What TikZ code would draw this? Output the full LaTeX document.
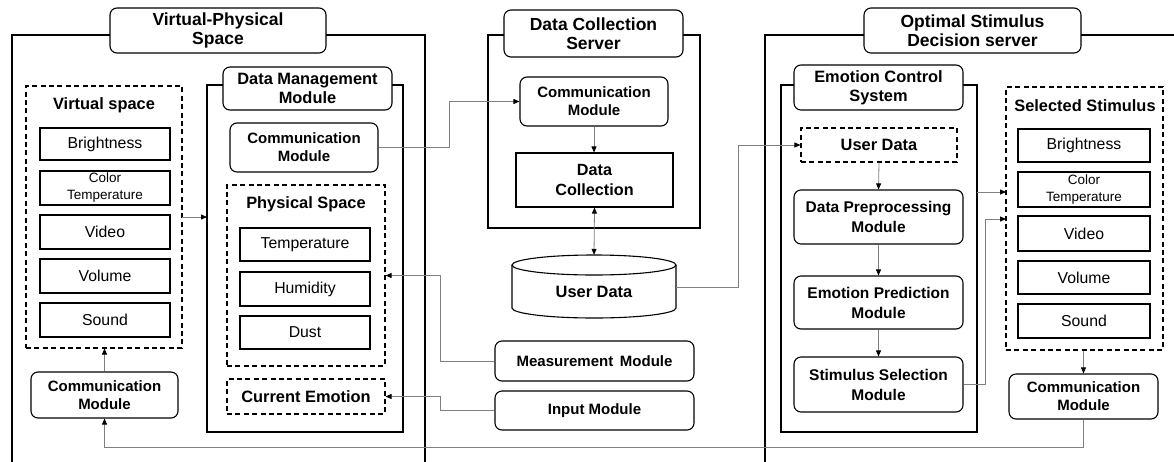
\documentclass[tikz,border=0pt]{standalone}
\usepackage{fontspec}
\setmainfont{Liberation Sans}
\usetikzlibrary{arrows.meta}

\tikzset{
  px/.style={x=1pt,y=-1pt},
  frame/.style={draw=black,line width=1.2pt,inner sep=0pt},
  titlebox/.style={draw=black,fill=white,rounded corners=7pt,line width=1.1pt,inner sep=0pt,align=center,
    font=\fontsize{17.5}{19}\selectfont\bfseries},
  subtitle/.style={draw=black,fill=white,rounded corners=7pt,line width=1.1pt,inner sep=0pt,align=center,
    font=\fontsize{16.4}{19}\selectfont\bfseries},
  mod/.style={draw=black,rounded corners=7pt,line width=1.1pt,inner sep=0pt,align=center,
    font=\fontsize{15}{18}\selectfont\bfseries},
  bigmod/.style={mod,font=\fontsize{15.5}{20}\selectfont\bfseries},
  item/.style={draw=black,line width=1.1pt,inner sep=0pt,align=center,
    font=\fontsize{15.8}{18}\selectfont},
  smallitem/.style={item,font=\fontsize{13.5}{17}\selectfont},
  dbox/.style={draw=black,dash pattern=on 5pt off 3.4pt,line width=1.1pt,inner sep=0pt,align=center,
    font=\fontsize{16.4}{18.5}\selectfont\bfseries},
  label/.style={inner sep=0pt,font=\fontsize{16.4}{18.5}\selectfont\bfseries},
  boxlabel/.style={item,font=\fontsize{16.2}{20}\selectfont\bfseries},
  conn/.style={draw=black!50,line width=0.8pt,-{Triangle[length=6pt,width=5pt,color=black]}},
  both/.style={draw=black!50,line width=0.8pt,{Triangle[length=6pt,width=5pt,color=black]}-{Triangle[length=6pt,width=5pt,color=black]}},
}

\newcommand{\bx}[7]{% name, style, x1, y1, x2, y2, text
  \node[#2,minimum width={(#5)-(#3)},minimum height={(#6)-(#4)}] (#1) at ({((#3)+(#5))/2},{((#4)+(#6))/2}) {#7};}

\begin{document}
\begin{tikzpicture}[px]
\useasboundingbox (0,0) rectangle (1174,461);
\clip (0,0) rectangle (1174,461);

% ---------------- Virtual-Physical Space ----------------
\bx{vpsframe}{frame}{12}{35}{425}{480}{}
\bx{vpstitle}{titlebox}{110}{8}{326}{53}{Virtual-Physical\\Space}

\bx{vspace}{dbox}{26}{86}{182}{348}{}
\node[label] (vstitle) at (104,105) {Virtual space};
\bx{vbright}{item}{40}{128}{170}{160}{Brightness}
\bx{vcolor}{smallitem}{40}{171}{170}{205}{Color\\Temperature}
\bx{vvideo}{item}{40}{215}{170}{249}{Video}
\bx{vvolume}{item}{40}{259}{170}{293}{Volume}
\bx{vsound}{item}{40}{303}{170}{337}{Sound}
\bx{commL}{mod}{31}{372}{178}{418}{Communication\\Module}

\bx{dmm}{frame}{207}{85}{403}{432}{}
\bx{dmmtitle}{subtitle}{223}{67}{392}{110}{Data Management\\Module}
\bx{dmmcomm}{mod}{230}{123}{378}{172}{Communication\\Module}

\bx{phys}{dbox}{227}{185}{385}{366}{}
\node[label] (phystitle) at (306,204) {Physical Space};
\bx{ptemp}{item}{240}{228}{370}{261}{Temperature}
\bx{phum}{item}{240}{272}{370}{306}{Humidity}
\bx{pdust}{item}{240}{316}{370}{349}{Dust}
\bx{curemo}{dbox}{227}{379}{385}{414}{Current Emotion}

% ---------------- Data Collection Server ----------------
\bx{dcs}{frame}{488}{35}{700}{228}{}
\bx{dcstitle}{titlebox}{504}{10}{683}{57}{Data Collection\\Server}
\bx{dcscomm}{mod}{520}{77}{668}{126}{Communication\\Module}
\bx{dcoll}{boxlabel}{516}{153}{673}{207}{Data\\Collection}

% user data store
\node[inner sep=0pt,minimum width=164pt,minimum height=63pt] (store) at (594,286.5) {};
\draw[line width=1.1pt,fill=white] (512,265) -- (512,308) arc[start angle=180,end angle=0,x radius=82,y radius=10] -- (676,265);
\draw[line width=1.1pt] (594,265) ellipse [x radius=82,y radius=10];
\node[label] (storelabel) at (594,292) {User Data};

\bx{meas}{mod}{495}{341}{694}{381}{Measurement\ \,Module}
\bx{inp}{mod}{495}{391}{694}{430}{Input Module}

% ---------------- Optimal Stimulus Decision server ----------------
\bx{osd}{frame}{765}{35}{1190}{480}{}
\bx{osdtitle}{titlebox}{864}{8}{1081}{53}{Optimal Stimulus\\Decision server}

\bx{ecs}{frame}{781}{85}{977}{432}{}
\bx{ecstitle}{subtitle}{794}{65}{963}{110}{Emotion Control\\System}
\bx{udata}{dbox}{801}{128}{957}{162}{User Data}
\bx{dpm}{bigmod}{794}{190}{963}{244}{Data Preprocessing\\Module}
\bx{epm}{bigmod}{794}{276}{963}{329}{Emotion Prediction\\Module}
\bx{ssm}{bigmod}{794}{357}{963}{412}{Stimulus Selection\\Module}

\bx{sel}{dbox}{1006}{87}{1163}{350}{}
\node[label] (seltitle) at (1085,106) {Selected Stimulus};
\bx{sbright}{item}{1018}{129}{1150}{162}{Brightness}
\bx{scolor}{smallitem}{1018}{172}{1150}{207}{Color\\Temperature}
\bx{svideo}{item}{1018}{216}{1150}{251}{Video}
\bx{svolume}{item}{1018}{261}{1150}{294}{Volume}
\bx{ssound}{item}{1018}{304}{1150}{338}{Sound}
\bx{commR}{mod}{1009}{374}{1158}{419}{Communication\\Module}

% ---------------- connectors ----------------
\coordinate (vsout) at (182,217);
\coordinate (dmmin) at (207,217);
\draw[conn] (vsout) -- (dmmin);
\draw[conn] (commL.north) -- (vspace.south -| commL.north);

\draw[conn] (dmmcomm.east) -- (449,147.5) |- (dcscomm.west);
\draw[conn] (dcscomm.south) -- (dcscomm.south |- dcoll.north);
\draw[both] (dcoll.south) -- (store.north);

\coordinate (storeout) at (676,287);
\draw[conn] (storeout) -- (738,287) |- (udata.west);

\draw[conn] (meas.west) -- (440,361) |- (phys.east);
\draw[conn] (inp.west) -- (440,410.5) |- (curemo.east);

\draw[conn] (commR.south) -- (1083.5,447) -| (commL.south);

\draw[conn] (udata.south) -- (dpm.north);
\draw[conn] (dpm.south) -- (epm.north);
\draw[conn] (epm.south) -- (ssm.north);

\coordinate (ecsout) at (977,192);
\coordinate (selin) at (1006,192);
\draw[conn] (ecsout) -- (selin);
\draw[conn] (ssm.east) -- (985,384.5) |- (1006,219);
\draw[conn] (sel.south -| commR.north) -- (commR.north);
\end{tikzpicture}
\end{document}
